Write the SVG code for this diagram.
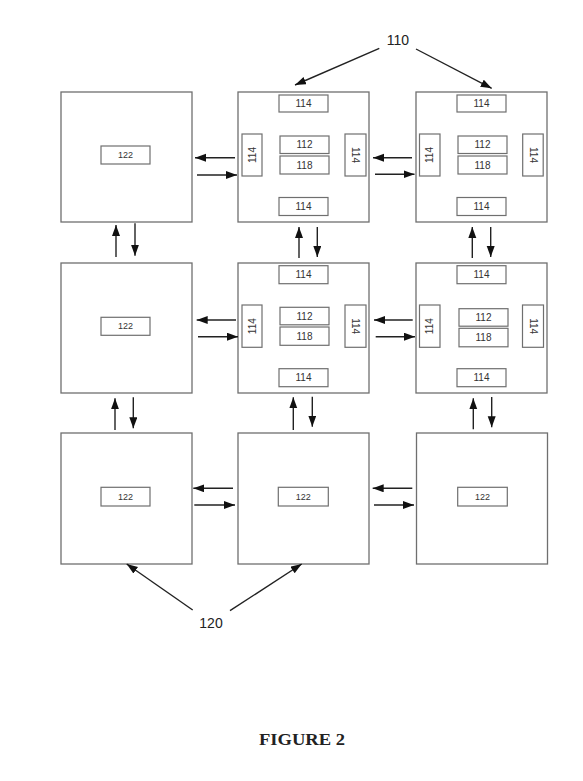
<svg xmlns="http://www.w3.org/2000/svg" width="583" height="781" viewBox="0 0 583 781">
<style>
.box{fill:#fff;stroke:#6f6f6f;stroke-width:1.3}
.in{fill:#fff;stroke:#6f6f6f;stroke-width:1.2}
.t{font-family:"Liberation Sans",Arial,sans-serif;font-size:10px;fill:#333;text-anchor:middle;dominant-baseline:central}
.t9{font-size:9px}
.lbl{font-family:"Liberation Sans",Arial,sans-serif;font-size:14px;fill:#222;text-anchor:middle}
.fig{font-family:"Liberation Serif","Times New Roman",serif;font-size:17px;font-weight:bold;fill:#222;text-anchor:middle}
.ar{stroke:#222;stroke-width:1.4;fill:none;marker-end:url(#ah)}
</style>
<defs>
<marker id="ah" markerUnits="userSpaceOnUse" markerWidth="12" markerHeight="9" refX="11" refY="4" orient="auto">
<path d="M0,0 L11,4 L0,8 z" fill="#111"/>
</marker>
</defs>
<rect width="583" height="781" fill="#fff"/>

<!-- Row 1 -->
<g id="node-122-r1c1" transform="translate(61,92)">
<rect class="box" width="131" height="130"/>
<rect class="in" x="40" y="54" width="49" height="18"/>
<text class="t t9" x="64.5" y="63">122</text>
</g>
<g id="node-110-r1c2" transform="translate(238,92)">
<rect class="box" width="131" height="130"/>
<rect class="in" x="41" y="3" width="49" height="17"/><text class="t" x="65.5" y="11.5">114</text>
<rect class="in" x="42" y="44" width="49" height="17.5"/><text class="t" x="66.5" y="52.8">112</text>
<rect class="in" x="42" y="64" width="49" height="18"/><text class="t" x="66.5" y="73">118</text>
<rect class="in" x="4" y="42" width="20" height="42"/><text class="t" transform="translate(14,63) rotate(-90)">114</text>
<rect class="in" x="107" y="42" width="21" height="42"/><text class="t" transform="translate(117.5,63) rotate(90)">114</text>
<rect class="in" x="41" y="105.5" width="49" height="18"/><text class="t" x="65.5" y="114.5">114</text>
</g>
<g id="node-110-r1c3" transform="translate(416,92)">
<rect class="box" width="131" height="130"/>
<rect class="in" x="41" y="3" width="49" height="17"/><text class="t" x="65.5" y="11.5">114</text>
<rect class="in" x="42" y="44" width="49" height="17.5"/><text class="t" x="66.5" y="52.8">112</text>
<rect class="in" x="42" y="64" width="49" height="18"/><text class="t" x="66.5" y="73">118</text>
<rect class="in" x="3.5" y="42" width="20.5" height="42"/><text class="t" transform="translate(13.7,63) rotate(-90)">114</text>
<rect class="in" x="106.7" y="42" width="20.5" height="42"/><text class="t" transform="translate(117,63) rotate(90)">114</text>
<rect class="in" x="41" y="105.5" width="49" height="18"/><text class="t" x="65.5" y="114.5">114</text>
</g>

<!-- Row 2 -->
<g id="node-122-r2c1" transform="translate(61,263)">
<rect class="box" width="131" height="130"/>
<rect class="in" x="40" y="54.3" width="49" height="18"/>
<text class="t t9" x="64.5" y="63.3">122</text>
</g>
<g id="node-110-r2c2" transform="translate(238,263)">
<rect class="box" width="131" height="130"/>
<rect class="in" x="41" y="2.7" width="49" height="18"/><text class="t" x="65.5" y="11.7">114</text>
<rect class="in" x="42" y="44.3" width="49" height="17.5"/><text class="t" x="66.5" y="53">112</text>
<rect class="in" x="42" y="64" width="49" height="18.3"/><text class="t" x="66.5" y="73.2">118</text>
<rect class="in" x="4" y="42" width="20" height="42.3"/><text class="t" transform="translate(14,63.2) rotate(-90)">114</text>
<rect class="in" x="107" y="42" width="21" height="42.3"/><text class="t" transform="translate(117.5,63.2) rotate(90)">114</text>
<rect class="in" x="41" y="105.7" width="49" height="18"/><text class="t" x="65.5" y="114.7">114</text>
</g>
<g id="node-110-r2c3" transform="translate(416,263)">
<rect class="box" width="131" height="130"/>
<rect class="in" x="41" y="2.7" width="49" height="18"/><text class="t" x="65.5" y="11.7">114</text>
<rect class="in" x="43" y="45.7" width="49" height="17.5"/><text class="t" x="67.5" y="54.4">112</text>
<rect class="in" x="43" y="65.3" width="49" height="18.5"/><text class="t" x="67.5" y="74.5">118</text>
<rect class="in" x="3.5" y="42" width="20.5" height="42.3"/><text class="t" transform="translate(13.7,63.2) rotate(-90)">114</text>
<rect class="in" x="106.5" y="42" width="21" height="42.3"/><text class="t" transform="translate(117,63.2) rotate(90)">114</text>
<rect class="in" x="41" y="105.7" width="49" height="18"/><text class="t" x="65.5" y="114.7">114</text>
</g>

<!-- Row 3 -->
<g id="node-120-r3c1" transform="translate(61,433)">
<rect class="box" width="131" height="131"/>
<rect class="in" x="40" y="54.3" width="49" height="18.7"/>
<text class="t t9" x="64.5" y="63.6">122</text>
</g>
<g id="node-120-r3c2" transform="translate(238,433)">
<rect class="box" width="131" height="131"/>
<rect class="in" x="40.3" y="54.3" width="50" height="18.7"/>
<text class="t t9" x="65.3" y="63.6">122</text>
</g>
<g id="node-122-r3c3" transform="translate(416.5,433)">
<rect class="box" width="131" height="131"/>
<rect class="in" x="41.2" y="54.3" width="49.6" height="18.7"/>
<text class="t t9" x="66" y="63.6">122</text>
</g>

<g id="connectors">
<!-- row 1 horizontal -->
<line class="ar" x1="235" y1="157.7" x2="195" y2="157.7"/>
<line class="ar" x1="197" y1="175" x2="237" y2="175"/>
<line class="ar" x1="412" y1="157.7" x2="373" y2="157.7"/>
<line class="ar" x1="375" y1="174.3" x2="414.5" y2="174.3"/>
<!-- row 2 horizontal -->
<line class="ar" x1="236" y1="320" x2="196.7" y2="320"/>
<line class="ar" x1="198" y1="336.7" x2="238" y2="336.7"/>
<line class="ar" x1="412.7" y1="320" x2="374" y2="320"/>
<line class="ar" x1="375.7" y1="336.7" x2="415" y2="336.7"/>
<!-- row 3 horizontal -->
<line class="ar" x1="233" y1="488.3" x2="193.3" y2="488.3"/>
<line class="ar" x1="194.3" y1="505" x2="235" y2="505"/>
<line class="ar" x1="412.3" y1="488.3" x2="372.7" y2="488.3"/>
<line class="ar" x1="374" y1="505" x2="414" y2="505"/>
<!-- vertical row1-row2 -->
<line class="ar" x1="116" y1="257" x2="116" y2="225"/>
<line class="ar" x1="135" y1="223.3" x2="135" y2="255.7"/>
<line class="ar" x1="299" y1="258" x2="299" y2="227"/>
<line class="ar" x1="317.3" y1="227" x2="317.3" y2="257"/>
<line class="ar" x1="472.3" y1="258" x2="472.3" y2="227"/>
<line class="ar" x1="490.7" y1="227" x2="490.7" y2="257"/>
<!-- vertical row2-row3 -->
<line class="ar" x1="115" y1="430" x2="115" y2="398.3"/>
<line class="ar" x1="133.3" y1="397.3" x2="133.3" y2="428.3"/>
<line class="ar" x1="293.3" y1="430" x2="293.3" y2="397.3"/>
<line class="ar" x1="312.3" y1="396.7" x2="312.3" y2="426.7"/>
<line class="ar" x1="473.3" y1="429.3" x2="473.3" y2="398.3"/>
<line class="ar" x1="491.7" y1="397" x2="491.7" y2="427.3"/>
<!-- reference label arrows -->
<line class="ar" x1="379.3" y1="48.3" x2="295" y2="85"/>
<line class="ar" x1="416" y1="49" x2="491.7" y2="88.3"/>
<line class="ar" x1="192.7" y1="610" x2="126.7" y2="564"/>
<line class="ar" x1="230" y1="610.7" x2="301.7" y2="564"/>
</g>

<text class="lbl" x="398" y="45">110</text>
<text class="lbl" x="211" y="627.5">120</text>
<text class="fig" x="302" y="745" textLength="86" lengthAdjust="spacingAndGlyphs">FIGURE 2</text>
</svg>
